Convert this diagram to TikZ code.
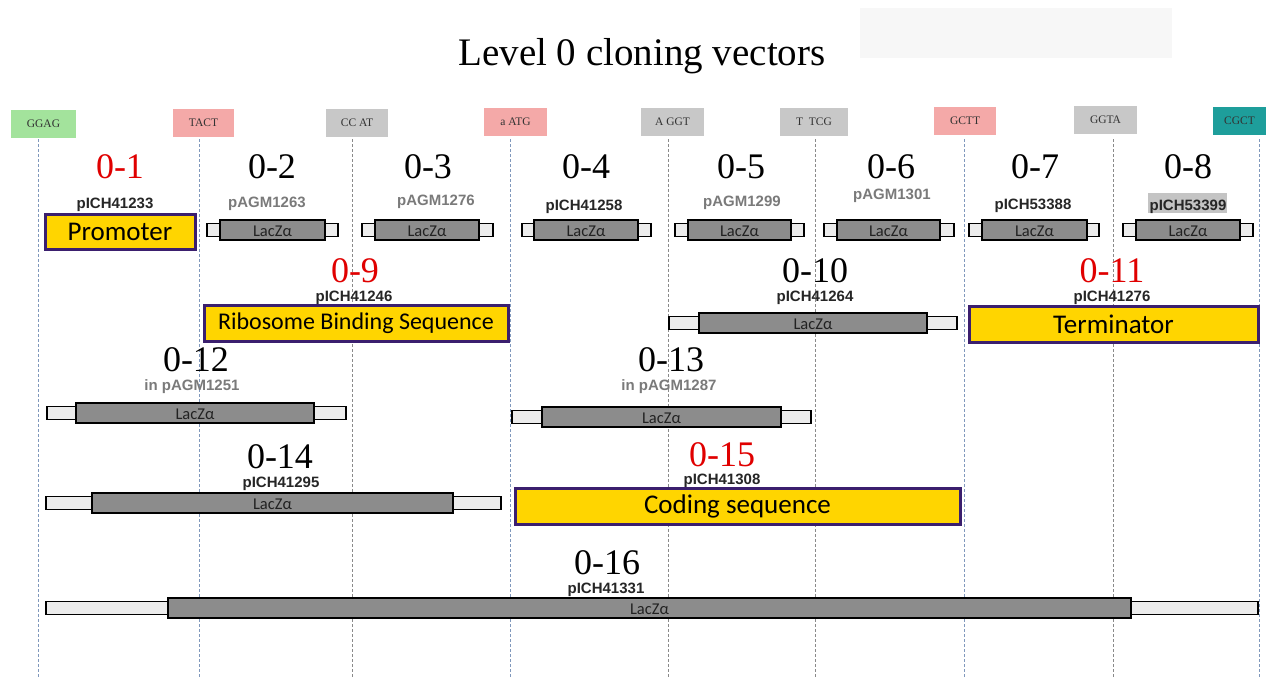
\documentclass[tikz,border=0pt]{standalone}
\usepackage{fontspec}
\setmainfont{Liberation Serif}
\newfontfamily\arialf{Liberation Sans}
\newfontfamily\calib{Carlito}
\definecolor{numred}{HTML}{E00000}
\definecolor{pgraytxt}{HTML}{7A7A7A}
\definecolor{sitetxt}{HTML}{333333}
\definecolor{sitegreen}{HTML}{A3E39C}
\definecolor{sitepink}{HTML}{F4A9A8}
\definecolor{sitegray}{HTML}{C8C8C8}
\definecolor{siteteal}{HTML}{1E9E9B}
\definecolor{boxyellow}{HTML}{FFD500}
\definecolor{boxpurple}{HTML}{3B1F6E}
\definecolor{lightfill}{HTML}{ECECEC}
\definecolor{darkfill}{HTML}{8C8C8C}
\definecolor{lacztxt}{HTML}{222222}
\definecolor{hlgray}{HTML}{C4C4C4}
\definecolor{lineblue}{HTML}{8098BC}
\definecolor{linegray}{HTML}{8A8A8A}
\tikzset{
  num/.style={font=\fontsize{36}{36}\selectfont, inner sep=0, anchor=base},
  rednum/.style={num, text=numred},
  pname/.style={font=\arialf\bfseries\fontsize{15}{15}\selectfont, inner sep=0, anchor=base, text=black!85},
  pgray/.style={pname, text=pgraytxt},
  site/.style={inner sep=0, minimum height=28, font=\fontsize{11.5}{11.5}\selectfont, text=sitetxt},
  yellowbox/.style={fill=boxyellow, draw=boxpurple, line width=3pt, inner sep=0, font=\calib\fontsize{27}{27}\selectfont},
  vline/.style={dash pattern=on 3pt off 2pt, line width=0.9pt},
  lightbar/.style={fill=lightfill, draw=black, line width=1.3pt},
  darkbar/.style={fill=darkfill, draw=black, line width=1.5pt},
  lacz/.style={font=\calib\fontsize{16.5}{16.5}\selectfont, text=lacztxt, inner sep=0}
}
\newcommand\laczbar[6]{%
  \draw[lightbar] ({#2},{#6-6.5}) rectangle ({#5},{#6+6.5});
  \draw[darkbar] ({#3},{#6-10}) rectangle ({#4},{#6+10});
  \node[lacz] (#1) at ({(#3+#4)/2},{#6+1}) {LacZα};}
\begin{document}
\begin{tikzpicture}[x=1pt,y=-1pt]
\useasboundingbox (0,0) rectangle (1266,677);
\fill[white] (0,0) rectangle (1266,677);
\fill[black!3] (860,8) rectangle (1172,58);
% title
\node[inner sep=0, anchor=base, font=\fontsize{39}{39}\selectfont] (title) at (642,66) {Level 0 cloning vectors};
% site boxes
\node[site, fill=sitegreen, minimum width=65] (s1) at (43.5,123.5) {GGAG};
\node[site, fill=sitepink, minimum width=61] (s2) at (203.5,122.5) {TACT};
\node[site, fill=sitegray, minimum width=62] (s3) at (357,122.5) {CC AT};
\node[site, fill=sitepink, minimum width=63] (s4) at (515.5,121.5) {a ATG};
\node[site, fill=sitegray, minimum width=63] (s5) at (672.5,121.5) {A GGT};
\node[site, fill=sitegray, minimum width=68] (s6) at (814,121.5) {T\ \ TCG};
\node[site, fill=sitepink, minimum width=62] (s7) at (965,121) {GCTT};
\node[site, fill=sitegray, minimum width=63] (s8) at (1105.5,120) {GGTA};
\node[site, fill=siteteal, minimum width=53] (s9) at (1239.5,121) {CGCT};
% dashed boundary lines
\foreach \n/\x/\c in {1/38/lineblue,2/199/lineblue,3/352/linegray,4/510/lineblue,5/668/linegray,6/815/linegray,7/964/lineblue,8/1113/linegray,9/1259/lineblue}{
  \coordinate (t\n) at (\x,139);
  \coordinate (b\n) at (\x,677);
  \draw[vline, draw=\c] (t\n) -- (b\n);
}
% row 1
\node[rednum] (n1) at (120,178) {0-1};
\node[num] (n2) at (272,178) {0-2};
\node[num] (n3) at (428,178) {0-3};
\node[num] (n4) at (586,178) {0-4};
\node[num] (n5) at (741,178) {0-5};
\node[num] (n6) at (891,178) {0-6};
\node[num] (n7) at (1035,178) {0-7};
\node[num] (n8) at (1188,178) {0-8};
\node[pname] (p1) at (115,208) {pICH41233};
\node[pgray] (p2) at (267,207) {pAGM1263};
\node[pgray] (p3) at (436,205) {pAGM1276};
\node[pname] (p4) at (584,210) {pICH41258};
\node[pgray] (p5) at (742,206) {pAGM1299};
\node[pgray] (p6) at (892,199) {pAGM1301};
\node[pname] (p7) at (1033,209) {pICH53388};
\fill[hlgray] (1148,193) rectangle (1227,213);
\node[pname] (p8) at (1188,210) {pICH53399};
\node[yellowbox, minimum width=150, minimum height=35] (prom) at (120,231.5) {Promoter};
\laczbar{l2}{207}{220}{325}{338}{230}
\laczbar{l3}{362}{375}{479}{493}{230}
\laczbar{l4}{522}{534}{638}{651}{230}
\laczbar{l5}{675}{688}{791}{804}{230}
\laczbar{l6}{824}{837}{940}{954}{230}
\laczbar{l7}{969}{982}{1087}{1099}{230}
\laczbar{l8}{1123}{1136}{1240}{1253}{230}
% row 2
\node[rednum] (n9) at (355,282) {0-9};
\node[pname] (p9) at (354,301) {pICH41246};
\node[yellowbox, minimum width=304, minimum height=36, font=\calib\fontsize{24}{24}\selectfont] (rbs) at (356,323) {Ribosome Binding Sequence};
\node[num] (n10) at (815,282) {0-10};
\node[pname] (p10) at (815,301) {pICH41264};
\laczbar{l10}{669}{699}{927}{957}{323}
\node[rednum] (n11) at (1112,282) {0-11};
\node[pname] (p11) at (1112,301) {pICH41276};
\node[yellowbox, minimum width=289, minimum height=36] (term) at (1113.5,324) {Terminator};
% row 3
\node[num] (n12) at (196,371) {0-12};
\node[pgray] (p12) at (192,390) {in pAGM1251};
\laczbar{l12}{47}{76}{314}{346}{413}
\node[num] (n13) at (671,371) {0-13};
\node[pgray] (p13) at (669,390) {in pAGM1287};
\laczbar{l13}{512}{542}{781}{811}{417}
% row 4
\node[num] (n14) at (280,468) {0-14};
\node[pname] (p14) at (281,487) {pICH41295};
\laczbar{l14}{46}{92}{453}{501}{503}
\node[rednum] (n15) at (722,466) {0-15};
\node[pname] (p15) at (722,484) {pICH41308};
\node[yellowbox, minimum width=445, minimum height=36] (cds) at (737.5,506) {Coding sequence};
% row 5
\node[num] (n16) at (607,574) {0-16};
\node[pname] (p16) at (606,593) {pICH41331};
\laczbar{l16}{46}{168}{1131}{1258}{608}
\end{tikzpicture}
\end{document}
